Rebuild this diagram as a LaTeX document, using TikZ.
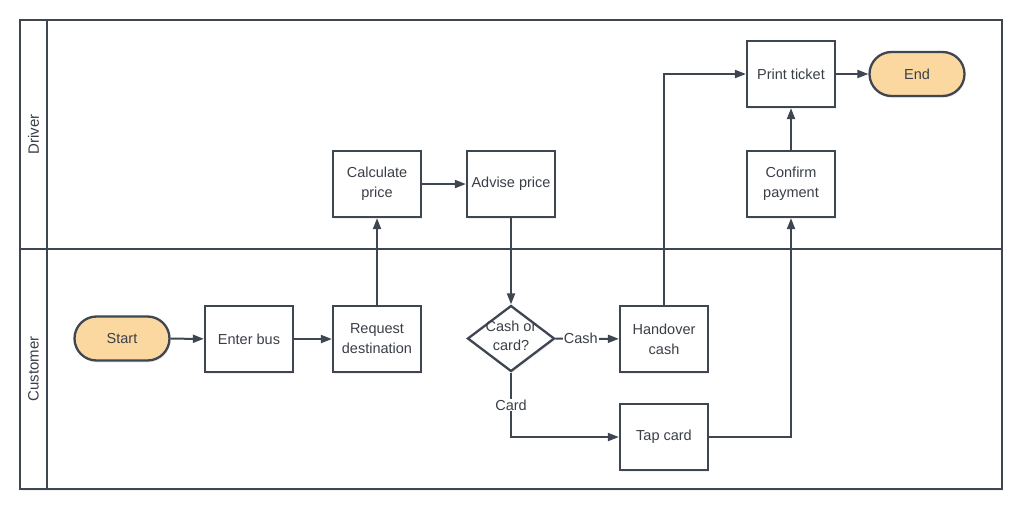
\documentclass[tikz,border=0pt]{standalone}
\usepackage{fontspec}
\setmainfont{Liberation Sans}
\usetikzlibrary{shapes.geometric,arrows.meta,shadows,calc}
\definecolor{ink}{HTML}{3E4651}
\definecolor{txt}{HTML}{3A3F47}
\definecolor{term}{HTML}{FCD8A1}
\tikzset{
  sh/.style={drop shadow={opacity=0.12,shadow xshift=1pt,shadow yshift=-2pt}},
  proc/.style={draw=ink,line width=2.3pt,fill=white,minimum width=88pt,minimum height=66pt,
    align=center,text=txt,font=\fontsize{14.5pt}{20pt}\selectfont,inner sep=0pt,sh},
  termnode/.style={draw=ink,line width=2.3pt,fill=term,rounded corners=22pt,minimum width=95pt,
    minimum height=44pt,text=txt,font=\fontsize{14.5pt}{16pt}\selectfont,sh},
  dec/.style={draw=ink,line width=2.3pt,fill=white,diamond,minimum width=87pt,minimum height=66pt,
    inner sep=0pt,sh},
  dectext/.style={align=center,text=txt,font=\fontsize{14.5pt}{19pt}\selectfont,inner sep=0pt},
  flow/.style={draw=ink,line width=2pt,-{Triangle[length=11pt,width=8pt]}},
  lane/.style={draw=ink,line width=2.3pt},
  lbl/.style={fill=white,text=txt,font=\fontsize{14.5pt}{16pt}\selectfont,inner sep=1pt},
  lanetitle/.style={text=txt,font=\fontsize{15pt}{16pt}\selectfont,rotate=90}
}
\begin{document}
\begin{tikzpicture}[x=1pt,y=-1pt]
\useasboundingbox (0,0) rectangle (1024,511);
% lanes
\draw[lane,drop shadow={opacity=0.1,shadow xshift=1pt,shadow yshift=-2pt},fill=white] (20,20) rectangle (1002,489);
\draw[lane] (47,20) -- (47,489);
\draw[lane] (20,249) -- (1002,249);
\node[lanetitle] (ldriver) at (33.5,134.5) {Driver};
\node[lanetitle] (lcust) at (33.5,369) {Customer};
% nodes
\node[termnode] (start) at (122,338.5) {Start};
\node[proc] (enter) at (249,339) {Enter bus};
\node[proc] (req) at (377,339) {Request\\destination};
\node[proc] (calc) at (377,184) {Calculate\\price};
\node[proc] (adv) at (511,184) {Advise price};
\node[dec] (dcs) at (511,338.5) {};
\node[dectext] (dcst) at (511,336) {Cash or\\card?};
\node[proc] (hand) at (664,339) {Handover\\cash};
\node[proc] (tap) at (664,437) {Tap card};
\node[proc] (conf) at (791,184) {Confirm\\payment};
\node[proc] (print) at (791,74) {Print ticket};
\node[termnode] (endn) at (917,74) {End};
% connectors
\draw[flow] (start) -- (enter);
\draw[flow] (enter) -- (req);
\draw[flow] (req) -- (calc);
\draw[flow] (calc) -- (adv);
\draw[flow] (adv) -- (dcs);
\draw[flow] (dcs) -- node[lbl,pos=0.4] {Cash} (hand);
\draw[flow] (dcs.south) -- node[lbl] {Card} (dcs.south |- tap.west) -- (tap.west);
\draw[flow] (hand.north) -- (hand.north |- print.west) -- (print.west);
\draw[flow] (tap.east) -- (conf.south |- tap.east) -- (conf.south);
\draw[flow] (conf) -- (print);
\draw[flow] (print) -- (endn);
\end{tikzpicture}
\end{document}
